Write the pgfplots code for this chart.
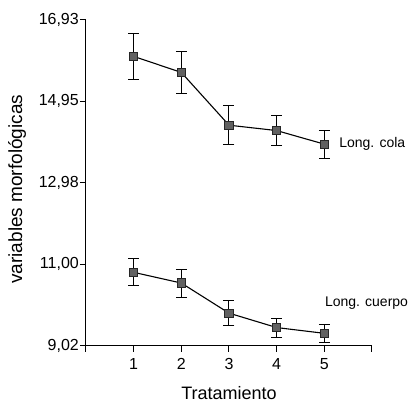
\documentclass[border=0pt]{standalone}
\usepackage{fontspec}
\setmainfont{Liberation Sans}
\usepackage{pgfplots}
\pgfplotsset{compat=1.18}
\begin{document}
\begin{tikzpicture}
\begin{axis}[
  scale only axis,
  width=286pt, height=326pt,
  at={(0,0)}, anchor=south west,
  xmin=0, xmax=6,
  ymin=9.02, ymax=16.93,
  axis lines=left,
  axis line style={-, line width=1pt},
  tick align=outside,
  major tick length=6pt,
  tick style={line width=1pt, black},
  xtick={0,1,2,3,4,5,6},
  xticklabels={,1,2,3,4,5,},
  ytick={9.02,10.9975,12.975,14.9525,16.93},
  yticklabels={{9,02},{11,00},{12,98},{14,95},{16,93}},
  /pgf/number format/assume math mode=true,
  ticklabel style={font=\fontsize{16}{18}\selectfont},
  yticklabel style={inner sep=0pt, xshift=-1pt},
  xticklabel style={yshift=-3pt},
  xlabel={Tratamiento},
  ylabel={variables morfológicas},
  xlabel style={font=\fontsize{18}{20}\selectfont, at={(axis description cs:0.5,-0.144)}, anchor=center},
  ylabel style={font=\fontsize{19}{21}\selectfont, at={(axis description cs:-0.2413,0.48)}, anchor=center},
  clip=false,
]
\addplot[black, line width=1.1pt, mark=square*, mark size=4.2pt,
  mark options={fill=black!62, draw=black!85, line width=0.8pt},
  error bars/.cd, y dir=both, y explicit,
  error bar style={line width=1pt, black},
  error mark options={rotate=90, mark size=5.5pt, line width=1pt, black}]
coordinates {
  (1,16.04) +- (0,0.56)
  (2,15.65) +- (0,0.52)
  (3,14.37) +- (0,0.48)
  (4,14.24) +- (0,0.36)
  (5,13.91) +- (0,0.34)
};
\addplot[black, line width=1.1pt, mark=square*, mark size=4.2pt,
  mark options={fill=black!62, draw=black!85, line width=0.8pt},
  error bars/.cd, y dir=both, y explicit,
  error bar style={line width=1pt, black},
  error mark options={rotate=90, mark size=5.5pt, line width=1pt, black}]
coordinates {
  (1,10.80) +- (0,0.33)
  (2,10.54) +- (0,0.34)
  (3,9.81) +- (0,0.30)
  (4,9.46) +- (0,0.23)
  (5,9.32) +- (0,0.22)
};
\node[anchor=west, inner sep=0pt, font=\fontsize{14}{16}\selectfont] at (axis cs:5.31,13.92) {Long. cola};
\node[anchor=west, inner sep=0pt, font=\fontsize{14}{16}\selectfont] at (axis cs:5.01,10.06) {Long. cuerpo};
\end{axis}
\pgfresetboundingbox
\path[use as bounding box] (-86pt,-58.3pt) rectangle (322pt,345.7pt);
\end{tikzpicture}
\end{document}
